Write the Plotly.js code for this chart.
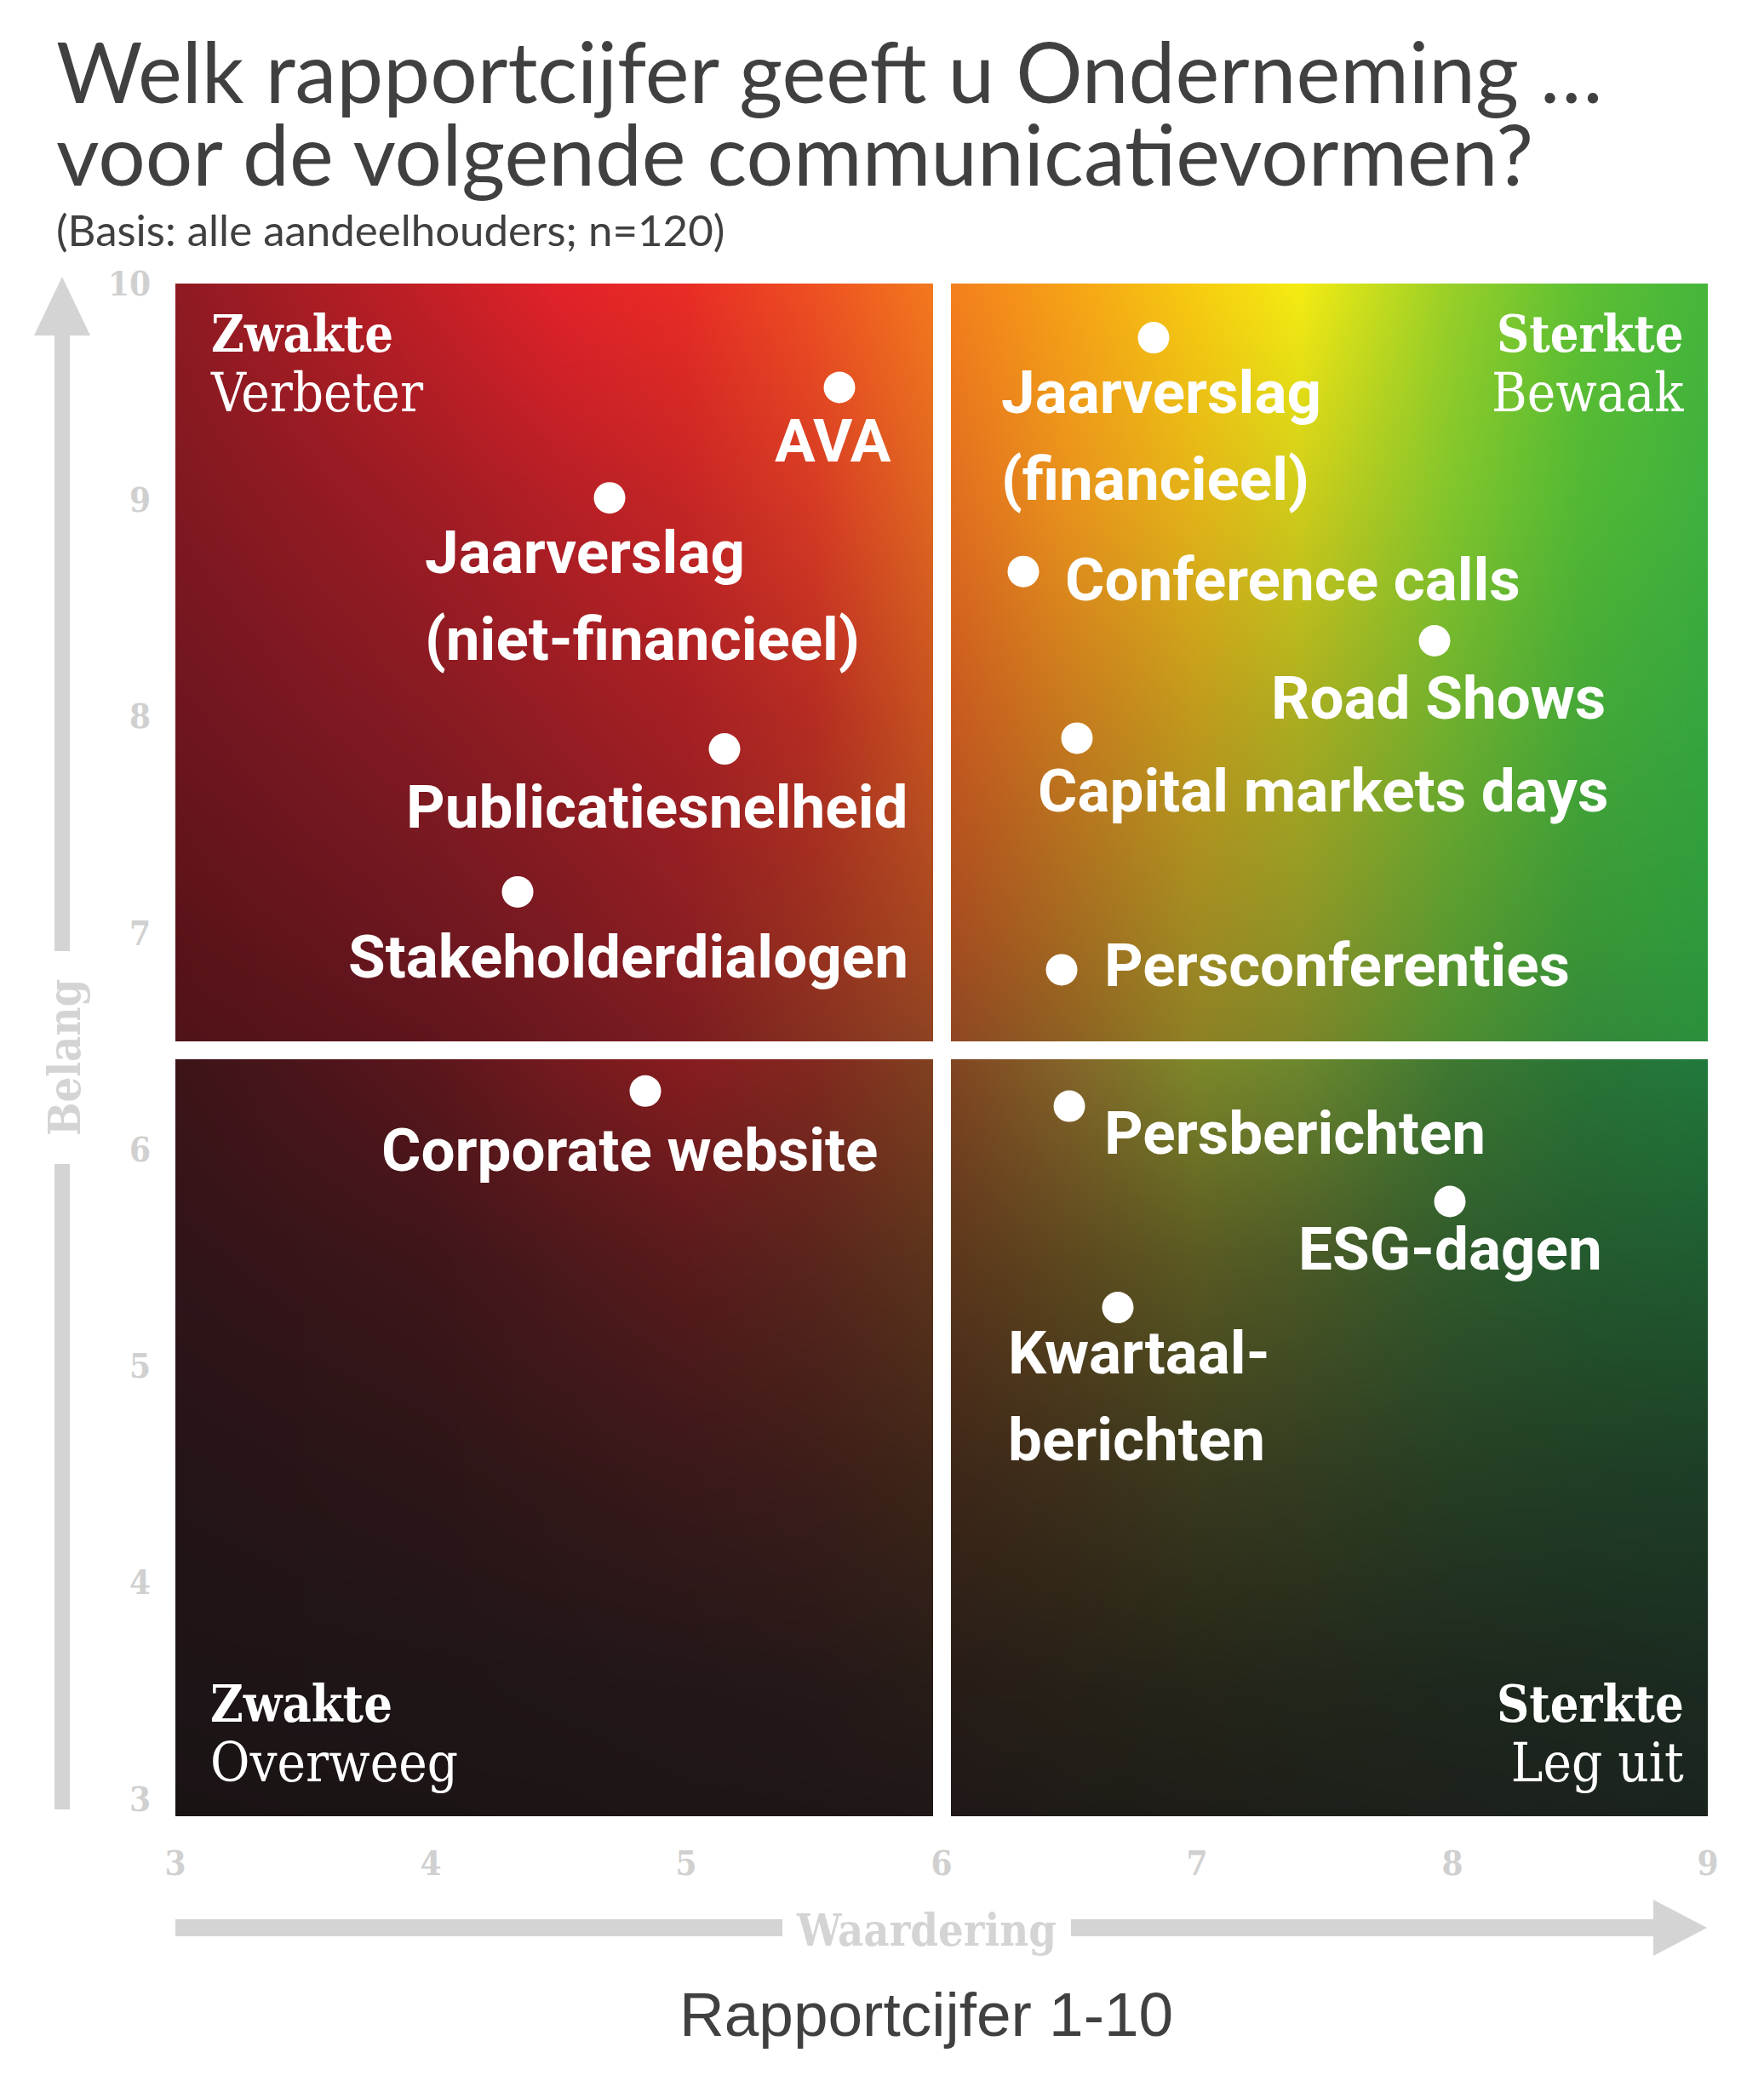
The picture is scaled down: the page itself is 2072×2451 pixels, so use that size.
<!DOCTYPE html>
<html>
<head>
<meta charset="utf-8">
<script src="https://cdn.plot.ly/plotly-3.0.1.min.js"></script>
<style>
    html, body { margin: 0; padding: 0; background: #ffffff; }
    #chart { width: 2072px; height: 2451px; }
</style>
</head>
<body>
<div id="chart"></div>
<script>
// Communicatievormen: rapportcijfer (waardering) against belang
const CHANNELS = [
    "AVA",
    "Jaarverslag<br>(niet-financieel)",
    "Publicatiesnelheid",
    "Stakeholderdialogen",
    "Jaarverslag<br>(financieel)",
    "Conference calls",
    "Road Shows",
    "Capital markets days",
    "Persconferenties",
    "Corporate website",
    "Persberichten",
    "ESG-dagen",
    "Kwartaal-<br>berichten",
];
const WAARDERING = [5.60, 4.70, 5.15, 4.34, 6.83, 6.32, 7.93, 6.53, 6.47, 4.84, 6.50, 7.99, 6.69];
const BELANG = [9.52, 9.01, 7.85, 7.19, 9.75, 8.67, 8.35, 7.90, 6.83, 6.27, 6.20, 5.76, 5.27];

const X_TICKS = [3, 4, 5, 6, 7, 8, 9];
const Y_TICKS = [3, 4, 5, 6, 7, 8, 9, 10];

const QUADRANTS = [
    { head: "Zwakte", sub: "Verbeter" },
    { head: "Sterkte", sub: "Bewaak" },
    { head: "Zwakte", sub: "Overweeg" },
    { head: "Sterkte", sub: "Leg uit" },
];

const TITLE_LINES = [
    "Welk rapportcijfer geeft u Onderneming …",
    "voor de volgende communicatievormen?",
];
const SUBTITLE = "(Basis: alle aandeelhouders; n=120)";
const X_AXIS_NAME = "Waardering";
const Y_AXIS_NAME = "Belang";
const SCALE_NOTE = "Rapportcijfer 1-10";


// label offsets from the dot, in pixels (anchor, dx, dy to first line)
const LABEL_PLACEMENT = [
    ["center", -8, 62],
    ["left", -219, 64],
    ["right", 217, 68],
    ["right", 461, 76],
    ["left", -181, 64],
    ["left", 47, 9],
    ["center", 4, 67],
    ["left", -48, 62],
    ["left", 48, -5],
    ["center", -19, 69],
    ["left", 39, 31],
    ["center", 0, 56],
    ["left", -131, 53],
];

const X_RANGE = [3, 9];
const Y_RANGE = [2.92, 10];
const SPLIT_X = 6;
const SPLIT_Y = 6.46;
const GAP_PX = 22;

const PLOT = { left: 206, right: 2006, top: 333, bottom: 2133 };
const WIDTH = 2072;
const HEIGHT = 2451;

// background colour mesh
const GRID_X = [3, 4, 4.5, 5, 5.5, 6, 6.5, 7, 7.4, 8, 8.5, 9];
const TOP_GRID_Y = [10, 9, 8, 7, SPLIT_Y];
const TOP_GRID = [
    ["#8e1a22", "#c41f26", "#e22229", "#e92c25", "#ee5022", "#f47c1d", "#f6a216", "#f7cc10", "#f5ec12", "#98cf28", "#5ec033", "#45b53b"],
    ["#7f1820", "#a01c24", "#b51f26", "#c52525", "#d63a24", "#e06a20", "#e8921c", "#e3b418", "#cfcc1a", "#80c52c", "#52b834", "#3fb03e"],
    ["#6e1520", "#861a22", "#961d23", "#a51f24", "#b52c22", "#c8561f", "#c77a1e", "#c09a1c", "#abad20", "#6eb02e", "#45a837", "#35a53e"],
    ["#5a1219", "#6e1720", "#7c1a21", "#8c1e22", "#99301f", "#a84a20", "#a46a20", "#a08a22", "#8f9426", "#5a9a30", "#3a9636", "#2e9a3c"],
    ["#4e1318", "#5e141c", "#6c181e", "#7a1c20", "#843020", "#8c4423", "#8c6022", "#8c8024", "#7c8428", "#4e8c30", "#34883a", "#2b8e3b"],
];
const BOTTOM_GRID_Y = [SPLIT_Y, 5.5, 4.5, 3.5, 2.92];
const BOTTOM_GRID = [
    ["#3d1418", "#5c161c", "#761a1e", "#8a1c1f", "#84281f", "#834320", "#86662a", "#7f8a2a", "#6e8a2e", "#3f7a32", "#2a7636", "#217a3c"],
    ["#301418", "#3e1519", "#4c181b", "#5a1a1c", "#5a251c", "#5d351c", "#5d481e", "#5a5a22", "#4c5a26", "#305a2c", "#245a2e", "#1f5c30"],
    ["#241416", "#2c1517", "#331718", "#3a1819", "#3c1d19", "#3e2618", "#3d2f1a", "#3a3a1e", "#333c20", "#263e24", "#203e25", "#1d3e26"],
    ["#1c1416", "#1e1516", "#201617", "#221718", "#241818", "#261c17", "#262017", "#252418", "#22261a", "#1e271d", "#1c281e", "#1b2a20"],
    ["#1a1314", "#1b1415", "#1c1415", "#1d1516", "#1e1616", "#1f1817", "#1f1b17", "#1e1d18", "#1d1f19", "#1c211b", "#1b221c", "#1a241d"],
];

const LABEL_FONT = "Roboto, 'Open Sans', sans-serif";
const SLAB_FONT = "'DejaVu Serif Condensed', 'DejaVu Serif', serif";
const TITLE_FONT = "Lato, 'Open Sans', sans-serif";
const ARROW_GREY = "#d4d4d4";


function toPaperX(px) {
    return (px - PLOT.left) / (PLOT.right - PLOT.left);
}

function toPaperY(py) {
    return (PLOT.bottom - py) / (PLOT.bottom - PLOT.top);
}

function textCenter(baseline, size, ratio = 0.35) {
    return baseline - size * ratio;
}

function hexToRgb(hex) {
    const value = parseInt(hex.slice(1), 16);
    return [(value >> 16) & 255, (value >> 8) & 255, value & 255];
}

function locate(stops, value, descending) {
    for (let i = 0; i < stops.length - 1; i++) {
        const a = stops[i];
        const b = stops[i + 1];
        const inside = descending ? value <= a && value >= b : value >= a && value <= b;
        if (inside) {
            return [i, (value - a) / (b - a)];
        }
    }
    return descending
        ? (value > stops[0] ? [0, 0] : [stops.length - 2, 1])
        : (value < stops[0] ? [0, 0] : [stops.length - 2, 1]);
}


function buildQuadrantBackground() {
    const w = PLOT.right - PLOT.left;
    const h = PLOT.bottom - PLOT.top;
    const canvas = document.createElement("canvas");
    canvas.width = w;
    canvas.height = h;
    const ctx = canvas.getContext("2d");
    const image = ctx.createImageData(w, h);

    const top = TOP_GRID.map((row) => row.map(hexToRgb));
    const bottom = BOTTOM_GRID.map((row) => row.map(hexToRgb));
    const splitPx = Math.round((Y_RANGE[1] - SPLIT_Y) / (Y_RANGE[1] - Y_RANGE[0]) * h);
    const splitXPx = Math.round((SPLIT_X - X_RANGE[0]) / (X_RANGE[1] - X_RANGE[0]) * w);
    const half = GAP_PX / 2;

    const columns = [];
    for (let px = 0; px < w; px++) {
        const x = X_RANGE[0] + (px + 0.5) / w * (X_RANGE[1] - X_RANGE[0]);
        columns.push(locate(GRID_X, x, false));
    }

    for (let py = 0; py < h; py++) {
        const y = Y_RANGE[1] - (py + 0.5) / h * (Y_RANGE[1] - Y_RANGE[0]);
        const isTop = py < splitPx;
        const grid = isTop ? top : bottom;
        const [j, ty] = locate(isTop ? TOP_GRID_Y : BOTTOM_GRID_Y, y, true);
        const rowGap = Math.abs(py - splitPx) < half;
        for (let px = 0; px < w; px++) {
            const offset = (py * w + px) * 4;
            if (rowGap || Math.abs(px - splitXPx) < half) {
                image.data[offset] = 255;
                image.data[offset + 1] = 255;
                image.data[offset + 2] = 255;
                image.data[offset + 3] = 255;
                continue;
            }
            const [i, tx] = columns[px];
            for (let c = 0; c < 3; c++) {
                const upper = grid[j][i][c] * (1 - tx) + grid[j][i + 1][c] * tx;
                const lower = grid[j + 1][i][c] * (1 - tx) + grid[j + 1][i + 1][c] * tx;
                image.data[offset + c] = Math.round(upper * (1 - ty) + lower * ty);
            }
            image.data[offset + 3] = 255;
        }
    }
    ctx.putImageData(image, 0, 0);
    return canvas.toDataURL("image/png");
}


function arrowShapes() {
    const shaftX = 73;
    const shaftY = 2264;
    const half = 9;
    const head = 33;
    const pts = (list) => "M " + list.map(([px, py]) => `${toPaperX(px)},${toPaperY(py)}`).join(" L ") + " Z";

    const paths = [
        // vertical arrow, head and upper shaft
        pts([[shaftX, 325], [shaftX + head, 394], [shaftX + half, 394], [shaftX + half, 1117],
            [shaftX - half, 1117], [shaftX - half, 394], [shaftX - head, 394]]),
        pts([[shaftX - half, 1367], [shaftX + half, 1367], [shaftX + half, 2125], [shaftX - half, 2125]]),
        // horizontal arrow, left shaft and right shaft with head
        pts([[206, shaftY - half - 1], [919, shaftY - half - 1], [919, shaftY + half + 1], [206, shaftY + half + 1]]),
        pts([[1258, shaftY - half - 1], [1942, shaftY - half - 1], [1942, shaftY - head], [2005, shaftY],
            [1942, shaftY + head], [1942, shaftY + half + 1], [1258, shaftY + half + 1]]),
    ];

    return paths.map((path) => ({
        type: "path",
        xref: "paper",
        yref: "paper",
        path,
        fillcolor: ARROW_GREY,
        line: { width: 0 },
        layer: "above",
    }));
}


function pointLabelAnnotations() {
    const size = 71;
    const lineGap = 102;
    const annotations = [];
    CHANNELS.forEach((name, index) => {
        const [anchor, dx, dy] = LABEL_PLACEMENT[index];
        name.split("<br>").forEach((line, lineIndex) => {
            annotations.push({
                x: WAARDERING[index],
                y: BELANG[index],
                xref: "x",
                yref: "y",
                text: line,
                showarrow: false,
                xanchor: anchor,
                yanchor: "middle",
                xshift: dx,
                yshift: -(dy + lineIndex * lineGap),
                font: { family: LABEL_FONT, size, color: "#ffffff", weight: 700 },
            });
        });
    });
    return annotations;
}


// heading and advice share one text block; line pitch is 1.3 x the block font size
function quadrantAnnotations() {
    const headSize = 59;
    const subSize = 63;
    const pitch = 70;
    const corners = [
        { x: 245, anchor: "left", headBase: 413 },
        { x: 1980, anchor: "right", headBase: 413 },
        { x: 245, anchor: "left", headBase: 2022 },
        { x: 1980, anchor: "right", headBase: 2022 },
    ];
    return QUADRANTS.map((quadrant, index) => {
        const corner = corners[index];
        const top = corner.headBase - 0.928 * headSize;
        const bottom = corner.headBase + pitch + 0.236 * subSize;
        return {
            xref: "paper", yref: "paper",
            x: toPaperX(corner.x), y: toPaperY((top + bottom) / 2),
            text: `<b><span style="font-size:${headSize}px">${quadrant.head}</span></b><br>`
                + `<span style="font-size:${subSize}px">${quadrant.sub}</span>`,
            showarrow: false,
            xanchor: corner.anchor, yanchor: "middle", align: corner.anchor,
            font: { family: SLAB_FONT, size: pitch / 1.3, color: "#ffffff", weight: 400 },
        };
    });
}


function frameAnnotations() {
    const titleSize = 98;
    const titlePitch = 97;
    const firstBase = 121;
    const subSize = 51;
    const titleTop = firstBase - 0.987 * titleSize;
    const titleBottom = firstBase + titlePitch + 0.213 * titleSize;
    return [
        {
            xref: "paper", yref: "paper",
            x: toPaperX(64), y: toPaperY((titleTop + titleBottom) / 2),
            text: TITLE_LINES.map((line) => `<span style="font-size:${titleSize}px">${line}</span>`).join("<br>"),
            showarrow: false, xanchor: "left", yanchor: "middle", align: "left",
            font: { family: TITLE_FONT, size: titlePitch / 1.3, color: "#404040" },
        },
        {
            xref: "paper", yref: "paper",
            x: toPaperX(64), y: toPaperY(textCenter(289, subSize, 0.387)),
            text: SUBTITLE, showarrow: false, xanchor: "left", yanchor: "middle",
            font: { family: TITLE_FONT, size: subSize, color: "#404040" },
        },
        {
            xref: "paper", yref: "paper",
            x: toPaperX(1088), y: toPaperY(2266),
            text: X_AXIS_NAME, showarrow: false, xanchor: "center", yanchor: "middle",
            font: { family: SLAB_FONT, size: 52, color: ARROW_GREY, weight: 700 },
        },
        {
            xref: "paper", yref: "paper",
            x: toPaperX(75), y: toPaperY(1242),
            text: Y_AXIS_NAME, showarrow: false, xanchor: "center", yanchor: "middle",
            textangle: -90,
            font: { family: SLAB_FONT, size: 52, color: ARROW_GREY, weight: 700 },
        },
        {
            xref: "paper", yref: "paper",
            x: toPaperX(1088), y: toPaperY(textCenter(2391, 73)),
            text: SCALE_NOTE, showarrow: false, xanchor: "center", yanchor: "middle",
            font: { family: "'Liberation Sans', Arial, sans-serif", size: 73, color: "#404040" },
        },
    ];
}


const tickFont = { family: SLAB_FONT, size: 40, color: "#d0d0d0", weight: 700 };

const traces = [{
    type: "scatter",
    mode: "markers",
    x: WAARDERING,
    y: BELANG,
    text: CHANNELS,
    marker: { color: "#ffffff", size: 37, line: { width: 0 } },
    hoverinfo: "text",
    showlegend: false,
    cliponaxis: false,
}];

const layout = {
    width: WIDTH,
    height: HEIGHT,
    margin: {
        l: PLOT.left,
        r: WIDTH - PLOT.right,
        t: PLOT.top,
        b: HEIGHT - PLOT.bottom,
    },
    paper_bgcolor: "#ffffff",
    plot_bgcolor: "rgba(0, 0, 0, 0)",
    showlegend: false,
    xaxis: {
        range: X_RANGE,
        tickvals: X_TICKS,
        ticktext: X_TICKS.map(String),
        showgrid: false,
        zeroline: false,
        showline: false,
        ticks: "",
        ticklabelstandoff: 28,
        tickfont: tickFont,
        fixedrange: true,
    },
    yaxis: {
        range: Y_RANGE,
        tickvals: Y_TICKS,
        ticktext: Y_TICKS.map(String),
        showgrid: false,
        zeroline: false,
        showline: false,
        ticks: "",
        ticklabelstandoff: 28,
        tickfont: tickFont,
        fixedrange: true,
    },
    images: [{
        source: buildQuadrantBackground(),
        xref: "x",
        yref: "y",
        x: X_RANGE[0],
        y: Y_RANGE[1],
        sizex: X_RANGE[1] - X_RANGE[0],
        sizey: Y_RANGE[1] - Y_RANGE[0],
        xanchor: "left",
        yanchor: "top",
        sizing: "stretch",
        layer: "below",
    }],
    shapes: arrowShapes(),
    annotations: [...frameAnnotations(), ...quadrantAnnotations(), ...pointLabelAnnotations()],
};

Plotly.newPlot("chart", traces, layout, { displayModeBar: false, staticPlot: true });
</script>
</body>
</html>
